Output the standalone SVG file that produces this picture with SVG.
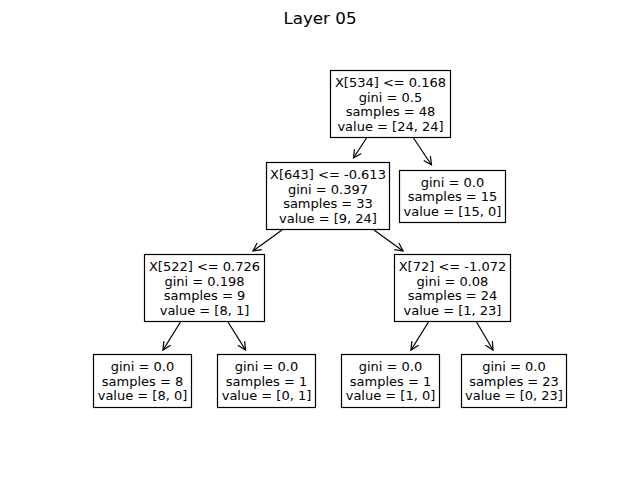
<svg xmlns="http://www.w3.org/2000/svg" width="640" height="480" viewBox="0 0 640 480">
<defs>
<marker id="arr" markerUnits="userSpaceOnUse" markerWidth="20" markerHeight="20" viewBox="-10 -10 20 20" refX="0" refY="0" orient="auto">
<path d="M-8,-4 L0,0 L-8,4" fill="none" stroke="#000" stroke-width="1.2"/>
</marker>
</defs>
<style>
.box{fill:#fff;stroke:#000;stroke-width:1.2}
.t{font-family:"DejaVu Sans",sans-serif;font-size:13px;fill:#000;text-anchor:middle}
.e line{stroke:#000;stroke-width:1.2;marker-end:url(#arr)}
</style>
<rect width="640" height="480" fill="#fff"/>
<text x="320" y="24" font-family="DejaVu Sans, sans-serif" font-size="16.7px" text-anchor="middle">Layer 05</text>
<g id="edges" class="e">
<line x1="366.5" y1="138" x2="353.5" y2="158"/>
<line x1="413.5" y1="138" x2="431.5" y2="165"/>
<line x1="282" y1="230" x2="253" y2="251"/>
<line x1="374" y1="230" x2="403" y2="251"/>
<line x1="180.5" y1="322" x2="163" y2="350"/>
<line x1="228" y1="322" x2="245.5" y2="350"/>
<line x1="428.5" y1="322" x2="411" y2="350"/>
<line x1="476.5" y1="322" x2="493" y2="350"/>
</g>
<g id="n0"><rect class="box" x="330.5" y="70.5" width="120" height="67"/>
<text class="t" x="390.5" y="87">X[534] &lt;= 0.168</text><text class="t" x="390.5" y="101.5">gini = 0.5</text><text class="t" x="390.5" y="116">samples = 48</text><text class="t" x="390.5" y="130.5">value = [24, 24]</text></g>
<g id="n1"><rect class="box" x="266.5" y="162.5" width="123" height="67"/>
<text class="t" x="328" y="179">X[643] &lt;= -0.613</text><text class="t" x="328" y="193.5">gini = 0.397</text><text class="t" x="328" y="208">samples = 33</text><text class="t" x="328" y="222.5">value = [9, 24]</text></g>
<g id="n8"><rect class="box" x="399.5" y="170.5" width="106" height="52"/>
<text class="t" x="452.5" y="186.5">gini = 0.0</text><text class="t" x="452.5" y="201">samples = 15</text><text class="t" x="452.5" y="215.5">value = [15, 0]</text></g>
<g id="n2"><rect class="box" x="144.5" y="254.5" width="120" height="67"/>
<text class="t" x="204.5" y="271">X[522] &lt;= 0.726</text><text class="t" x="204.5" y="285.5">gini = 0.198</text><text class="t" x="204.5" y="300">samples = 9</text><text class="t" x="204.5" y="314.5">value = [8, 1]</text></g>
<g id="n5"><rect class="box" x="394.5" y="254.5" width="116" height="67"/>
<text class="t" x="452.5" y="271">X[72] &lt;= -1.072</text><text class="t" x="452.5" y="285.5">gini = 0.08</text><text class="t" x="452.5" y="300">samples = 24</text><text class="t" x="452.5" y="314.5">value = [1, 23]</text></g>
<g id="n3"><rect class="box" x="93.5" y="354.5" width="98" height="53"/>
<text class="t" x="142.5" y="371">gini = 0.0</text><text class="t" x="142.5" y="385.5">samples = 8</text><text class="t" x="142.5" y="400">value = [8, 0]</text></g>
<g id="n4"><rect class="box" x="217.5" y="354.5" width="98" height="53"/>
<text class="t" x="266.5" y="371">gini = 0.0</text><text class="t" x="266.5" y="385.5">samples = 1</text><text class="t" x="266.5" y="400">value = [0, 1]</text></g>
<g id="n6"><rect class="box" x="341.5" y="354.5" width="98" height="53"/>
<text class="t" x="390.5" y="371">gini = 0.0</text><text class="t" x="390.5" y="385.5">samples = 1</text><text class="t" x="390.5" y="400">value = [1, 0]</text></g>
<g id="n7"><rect class="box" x="461.5" y="354.5" width="105" height="53"/>
<text class="t" x="514" y="371">gini = 0.0</text><text class="t" x="514" y="385.5">samples = 23</text><text class="t" x="514" y="400">value = [0, 23]</text></g>
</svg>
